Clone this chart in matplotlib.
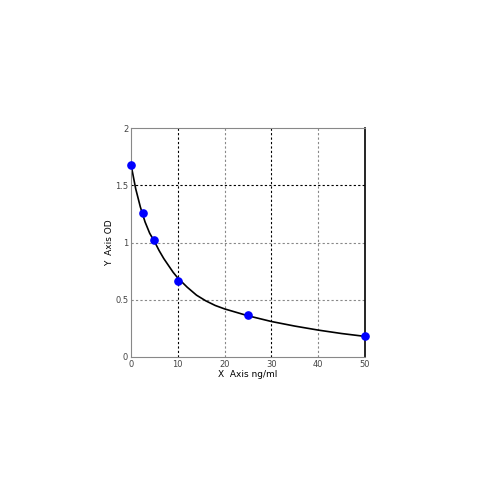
import numpy as np
import matplotlib
matplotlib.use('Agg')
import matplotlib.pyplot as plt

# standard points (concentration ng/ml, OD)
conc = [0, 2.5, 5, 10, 25, 50]
od = [1.68, 1.26, 1.02, 0.665, 0.365, 0.18]

# fitted curve
curve_x = [0, 1, 2, 3, 4, 5, 6, 7, 8, 9, 10, 12, 14, 16, 18, 20, 22.5, 25, 30, 35, 40, 45, 50]
curve_y = [1.68, 1.47, 1.31, 1.18, 1.08, 1.01, 0.93, 0.86, 0.80, 0.74, 0.69, 0.61, 0.54,
           0.49, 0.45, 0.42, 0.39, 0.36, 0.31, 0.27, 0.235, 0.205, 0.18]

xticks = [0, 10, 20, 30, 40, 50]
yticks = [0, 0.5, 1, 1.5, 2]
ytick_labels = ['0', '0.5', '1', '1.5', '2']

fig = plt.figure(figsize=(5, 5), dpi=100)
ax = fig.add_axes([0.262, 0.286, 0.468, 0.458])

ax.set_xlim(0, 50)
ax.set_ylim(0, 2)
ax.set_xticks(xticks)
ax.set_yticks(yticks)
ax.set_yticklabels(ytick_labels)
ax.tick_params(length=0, labelsize=6, colors='#444444', pad=2)

# grid: some lines dark, some gray like the original
for xv in xticks[1:-1]:
    c = 'black' if xv in (10, 30) else '#888888'
    ax.axvline(xv, color=c, lw=0.8, ls=(0, (2, 2)), zorder=1)
for yv in yticks[1:-1]:
    c = 'black' if yv == 1.5 else '#888888'
    ax.axhline(yv, color=c, lw=0.8, ls=(0, (2, 2)), zorder=1)

for s in ['left', 'bottom', 'top']:
    ax.spines[s].set_color('#888888')
    ax.spines[s].set_linewidth(0.8)
ax.spines['right'].set_color('black')
ax.spines['right'].set_linewidth(1.2)

ax.plot(curve_x, curve_y, color='black', lw=1.2, zorder=2)
ax.plot(conc, od, 'o', color='#0000ff', ms=5.2, zorder=3, clip_on=False)

ax.set_xlabel('X  Axis ng/ml', fontsize=6.5, labelpad=1)
ax.set_ylabel('Y  Axis OD', fontsize=6.5, labelpad=1)

fig.savefig('out.png', dpi=100)
